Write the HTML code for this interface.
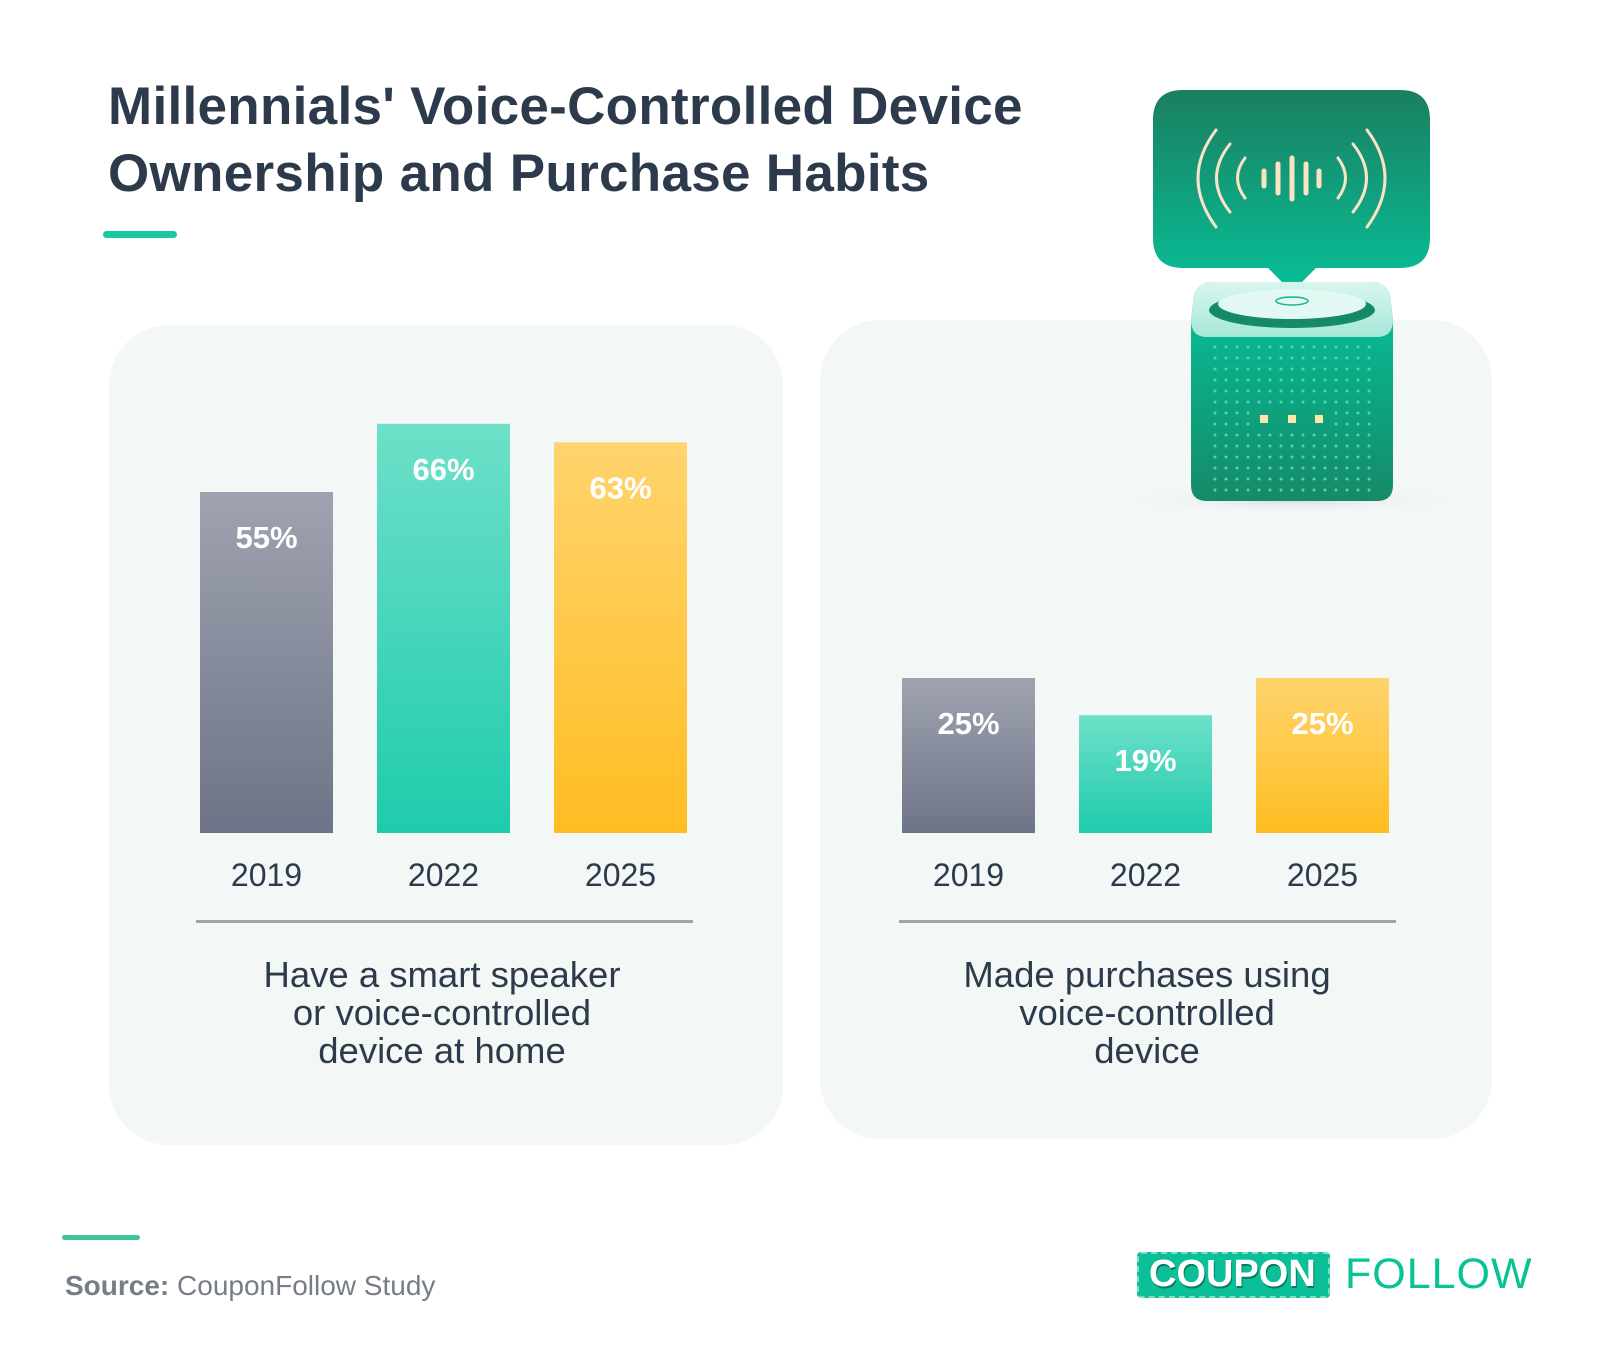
<!DOCTYPE html>
<html><head><meta charset="utf-8"><style>
body{margin:0;width:1600px;height:1364px;background:#fff;font-family:"Liberation Sans",sans-serif;position:relative;overflow:hidden}
.abs{position:absolute}
.title{left:108px;top:73px;font-size:53px;font-weight:bold;color:#2d3a4b;line-height:67px;letter-spacing:0.3px}
.panel{background:#f3f7f6;border-radius:60px}
</style></head><body>
<div class="abs title">Millennials' Voice-Controlled Device<br>Ownership and Purchase Habits</div>
<div class="abs" style="left:103px;top:231px;width:74px;height:7px;border-radius:4px;background:#19c9a4"></div>
<div class="abs panel" style="left:109px;top:325px;width:674px;height:820px"></div>
<div class="abs panel" style="left:820px;top:320px;width:672px;height:819px"></div>
<svg class="abs" style="left:0;top:0" width="1600" height="1364" id="chart">
<defs>
<linearGradient id="g0" x1="0" y1="0" x2="0" y2="1"><stop offset="0" stop-color="#9fa3b0"/><stop offset="1" stop-color="#6e7487"/></linearGradient>
<linearGradient id="g1" x1="0" y1="0" x2="0" y2="1"><stop offset="0" stop-color="#6ee0c9"/><stop offset="1" stop-color="#1fcbac"/></linearGradient>
<linearGradient id="g2" x1="0" y1="0" x2="0" y2="1"><stop offset="0" stop-color="#ffd46e"/><stop offset="1" stop-color="#ffbd22"/></linearGradient>
<linearGradient id="bub" x1="0" y1="0" x2="0" y2="1"><stop offset="0" stop-color="#1a7f60"/><stop offset="1" stop-color="#08bf98"/></linearGradient>
<linearGradient id="body" x1="0" y1="0" x2="0" y2="1"><stop offset="0" stop-color="#05c39b"/><stop offset="1" stop-color="#168a68"/></linearGradient>
<linearGradient id="capg" x1="0" y1="0" x2="0" y2="1"><stop offset="0" stop-color="#d8f5ee"/><stop offset="1" stop-color="#a6e8d9"/></linearGradient>
<radialGradient id="shad" cx="0.5" cy="0.5" r="0.5"><stop offset="0" stop-color="#d6dbde"/><stop offset="1" stop-color="#f3f7f6" stop-opacity="0"/></radialGradient>
</defs>
<g id="bars"></g>
<g id="speaker">
<ellipse cx="1292" cy="500" rx="170" ry="14" fill="url(#shad)"/>
<path d="M1183 90 H1400 Q1430 90 1430 120 V238 Q1430 268 1400 268 H1316 L1292 292 L1268 268 H1183 Q1153 268 1153 238 V120 Q1153 90 1183 90Z" fill="url(#bub)"/>
<g fill="none" stroke="#fbe3c6" stroke-width="3" stroke-linecap="round">
<path d="M1216 130 Q1180 178 1216 227"/><path d="M1230 144 Q1203 178 1230 212"/><path d="M1245 158 Q1230 178 1245 198"/>
<path d="M1367 130 Q1403 178 1367 227"/><path d="M1353 144 Q1380 178 1353 212"/><path d="M1338 158 Q1353 178 1338 198"/>
</g>
<g stroke="#fbe3c6" stroke-width="5" stroke-linecap="round">
<line x1="1264" y1="171" x2="1264" y2="186"/><line x1="1278" y1="164" x2="1278" y2="193"/><line x1="1292" y1="158" x2="1292" y2="199"/><line x1="1306" y1="164" x2="1306" y2="193"/><line x1="1319" y1="171" x2="1319" y2="186"/>
</g>
<path d="M1212 282 H1372 Q1385 282 1390 295 L1393 320 V485 Q1393 501 1377 501 H1207 Q1191 501 1191 485 V320 L1194 295 Q1199 282 1212 282Z" fill="url(#body)"/>
<path d="M1212 282 H1372 Q1385 282 1390 295 L1393 320 Q1393 337 1377 337 H1207 Q1191 337 1191 320 L1194 295 Q1199 282 1212 282Z" fill="url(#capg)"/>
<ellipse cx="1292" cy="310" rx="83" ry="18" fill="#168a68"/>
<ellipse cx="1292" cy="304" rx="74" ry="15" fill="#e3f7f3"/>
<ellipse cx="1292" cy="301" rx="16" ry="4" fill="none" stroke="#10b690" stroke-width="1.5"/>
<g id="dots" fill="#4fd6b7"></g>
<g fill="#fde6a6"><rect x="1260" y="415" width="8" height="8"/><rect x="1288" y="415" width="8" height="8"/><rect x="1315" y="415" width="8" height="8"/></g>
</g>
</svg>
<div class="abs" style="left:62px;top:1235px;width:78px;height:5px;border-radius:3px;background:#3fc497"></div>
<div class="abs" style="left:65px;top:1270px;font-size:28px;color:#777d88"><b>Source:</b> CouponFollow Study</div>
<div class="abs" style="left:1137px;top:1252px;height:46px;width:560px">
<div class="abs" style="left:0;top:0;width:193px;height:46px;background:#0bbf98;border:2px dashed #7ddcc3;box-sizing:border-box;border-radius:4px"></div>
<div class="abs" style="left:12px;top:1px;font-size:38px;font-weight:bold;color:#fff;text-shadow:1px 2px 0 #0a7a5e">COUPON</div>
<div class="abs" style="left:208px;top:-2px;font-size:43px;color:#08c394;letter-spacing:1px">FOLLOW</div>
</div>
<script>
const years = ["2019","2022","2025"];
const ownValues = [55,66,63];
const purchaseValues = [25,19,25];
const ns="http://www.w3.org/2000/svg";
const base=833, pxPer=6.2, barW=133;
function yScale(v){return base - v*pxPer;}
const g=document.getElementById('bars');
function el(t,a){const e=document.createElementNS(ns,t);for(const k in a)e.setAttribute(k,a[k]);return e;}
function drawChart(vals,xs,labelCx,caption,lineX,prefix){
  vals.forEach((v,i)=>{
    const r=el('rect',{x:xs[i],y:yScale(v),width:barW,height:base-yScale(v),fill:'url(#g'+i+')'});
    
    
    g.appendChild(r);
    const t=el('text',{x:xs[i]+barW/2,y:yScale(v)+56,'text-anchor':'middle','font-size':31,'font-weight':'bold',fill:'#fff','font-family':'Liberation Sans'});
    t.textContent=v+'%';
    
    
    g.appendChild(t);
    const y=el('text',{x:xs[i]+barW/2,y:886,'text-anchor':'middle','font-size':32,fill:'#2d3a4b','font-family':'Liberation Sans'});
    y.textContent=years[i];
    
    
    g.appendChild(y);
  });
  const ln=el('rect',{x:lineX,y:920,width:497,height:3,fill:'#9ea3ae'});
  
  
  g.appendChild(ln);
  caption.forEach((c,i)=>{
    const t=el('text',{x:labelCx,y:987+i*38,'text-anchor':'middle','font-size':36.5,fill:'#2d3a4b','font-family':'Liberation Sans'});
    t.textContent=c;
    
    
    g.appendChild(t);
  });
}
drawChart(ownValues,[200,377,554],442,["Have a smart speaker","or voice-controlled","device at home"],196,'ownership');
drawChart(purchaseValues,[902,1079,1256],1147,["Made purchases using","voice-controlled","device"],899,'purchase');
const dg=document.getElementById('dots');
for(let r=0;r<14;r++)for(let c=0;c<15;c++){
  const x=1215+c*11,y=347+r*11;
  if(y>410&&y<428&&x>1252&&x<1330)continue;
  dg.appendChild(el('circle',{cx:x,cy:y,r:1.5}));
}
</script>
</body></html>
